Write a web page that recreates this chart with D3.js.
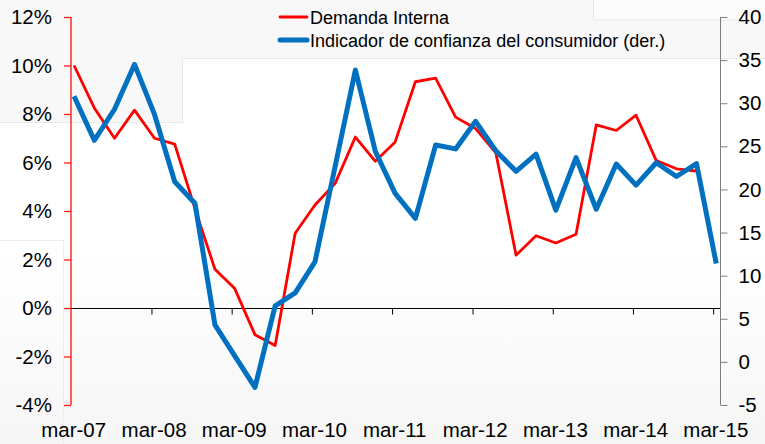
<!DOCTYPE html>
<html>
<head>
<meta charset="utf-8">
<script src="https://cdn.jsdelivr.net/npm/d3@7"></script>
<style>
  html, body { margin: 0; padding: 0; background: #ffffff; }
  svg { display: block; font-family: "Liberation Sans", Arial, sans-serif; }
</style>
</head>
<body>
<svg id="chart" width="765" height="444"></svg>
<script>
// ---- data ----
const quarters = [
  "2007-03","2007-06","2007-09","2007-12",
  "2008-03","2008-06","2008-09","2008-12",
  "2009-03","2009-06","2009-09","2009-12",
  "2010-03","2010-06","2010-09","2010-12",
  "2011-03","2011-06","2011-09","2011-12",
  "2012-03","2012-06","2012-09","2012-12",
  "2013-03","2013-06","2013-09","2013-12",
  "2014-03","2014-06","2014-09","2014-12",
  "2015-03"
];
const demandaInterna = [
  10.0, 8.25, 7.0, 8.16,
  7.0, 6.76, 4.1, 1.6,
  0.8, -1.1, -1.55, 3.08,
  4.25, 5.14, 7.05, 6.05,
  6.85, 9.33, 9.48, 7.87,
  7.4, 6.4, 2.18, 2.98,
  2.68, 3.04, 7.55, 7.32,
  7.95, 6.08, 5.74, 5.65,
  null
];
const confianza = [
  30.8, 25.7, 29.3, 34.5,
  28.7, 20.9, 18.4, 4.3,
  0.7, -2.95, 6.5, 8.0,
  11.6, 22.7, 33.85, 24.4,
  19.55, 16.65, 25.15, 24.7,
  27.9, 24.5, 22.1, 24.1,
  17.6, 23.7, 17.7, 22.95,
  20.5, 23.1, 21.5, 23.0,
  11.4
];
const xTickLabels = ["mar-07","mar-08","mar-09","mar-10","mar-11","mar-12","mar-13","mar-14","mar-15"];
const leftTicks = [-4, -2, 0, 2, 4, 6, 8, 10, 12];
const rightTicks = [-5, 0, 5, 10, 15, 20, 25, 30, 35, 40];
const seriesNames = ["Demanda Interna", "Indicador de confianza del consumidor (der.)"];

// ---- layout ----
const svg = d3.select("#chart");
const pLeft = 71, pRight = 720, pTop = 17, pBottom = 405;

// faint background panels (slide artefacts)
const bg = svg.append("g");
bg.append("rect").attr("x", 0).attr("y", 0).attr("width", 765).attr("height", 444).attr("fill", "#ffffff");
const grad = svg.append("defs").append("linearGradient").attr("id", "bgGrad")
  .attr("x1", 0).attr("y1", 0).attr("x2", 0).attr("y2", 1);
grad.append("stop").attr("offset", "0%").attr("stop-color", "#ffffff");
grad.append("stop").attr("offset", "100%").attr("stop-color", "#f6f6f6");
bg.append("rect").attr("x", 0).attr("y", 250).attr("width", 765).attr("height", 194).attr("fill", "url(#bgGrad)");
bg.append("rect").attr("x", 0).attr("y", 0).attr("width", 765).attr("height", 58).attr("fill", "#f8f8f8");
bg.append("rect").attr("x", 0).attr("y", 58).attr("width", 182).attr("height", 65).attr("fill", "#f8f8f8");
bg.append("path").attr("d", "M0,122.5H182.5V58.5H765").attr("fill", "none").attr("stroke", "#e8e8e8");
bg.append("rect").attr("x", 593.5).attr("y", -1).attr("width", 175).attr("height", 21).attr("fill", "#fcfcfc").attr("stroke", "#e8e8e8");
bg.append("path").attr("d", "M0,240.5H63.5V444").attr("fill", "none").attr("stroke", "#ededed");

// ---- scales ----
const parseQ = d3.timeParse("%Y-%m");
const qDates = quarters.map(q => d3.timeDay.offset(parseQ(q), 14));
const x = d3.scaleTime()
  .domain([new Date(2007, 2, 1), new Date(2015, 3, 1)])
  .range([pLeft, pRight]);
const yL = d3.scaleLinear().domain([-4, 12]).range([pBottom, pTop]);
const yR = d3.scaleLinear().domain([-5, 40]).range([pBottom, pTop]);
const tickDates = xTickLabels.map((_, i) => new Date(2007 + i, 2, 1));

// ---- axes ----
const fontSize = "20.5px";
const axisRed = "#ff1a1a";

// left axis (red)
const gL = svg.append("g").attr("transform", `translate(${pLeft},0)`)
  .call(d3.axisLeft(yL).tickValues(leftTicks).tickSize(7).tickPadding(12)
    .tickFormat(d => d + "%"));
gL.select(".domain").remove();
gL.selectAll(".tick line").attr("stroke", axisRed).style("stroke", axisRed).attr("stroke-width", 1.3);
gL.selectAll(".tick text").style("fill", "#000").style("font-size", fontSize);
gL.append("line").attr("x1", 0).attr("x2", 0).attr("y1", pTop).attr("y2", pBottom)
  .attr("stroke", axisRed).style("stroke", axisRed).attr("stroke-width", 1.4);

// right axis (gray)
const gR = svg.append("g").attr("transform", `translate(${pRight + 0.5},0)`)
  .call(d3.axisRight(yR).tickValues(rightTicks).tickSize(7).tickPadding(11)
    .tickFormat(d => String(d)));
gR.select(".domain").attr("d", `M0,${pTop}V${pBottom}`).style("stroke", "#7f7f7f");
gR.selectAll(".tick line").style("stroke", "#7f7f7f");
gR.selectAll(".tick text").style("fill", "#000").style("font-size", fontSize);

// x axis at 0%
const y0 = Math.round(yL(0)) + 0.5;
const gX = svg.append("g").attr("transform", `translate(0,${y0})`)
  .call(d3.axisBottom(x).tickValues(tickDates.slice(1)).tickSize(6).tickFormat(""));
gX.select(".domain").attr("d", `M${pLeft},0H${pRight}`).style("stroke", "#000");
gX.selectAll(".tick line").style("stroke", "#000");

// x labels (at bottom)
svg.append("g").selectAll("text").data(xTickLabels).join("text")
  .attr("x", (d, i) => x(d3.timeDay.offset(tickDates[i], 12)))
  .attr("y", 437)
  .attr("text-anchor", "middle")
  .style("font-size", fontSize)
  .attr("fill", "#000")
  .text(d => d);

// ---- lines ----
const redData = qDates.map((d, i) => ({ d, v: demandaInterna[i] }));
const blueData = qDates.map((d, i) => ({ d, v: confianza[i] }));

svg.append("path")
  .datum(redData)
  .attr("fill", "none")
  .attr("stroke", "#ff0000")
  .attr("stroke-width", 2.8)
  .attr("stroke-linejoin", "round")
  .attr("d", d3.line().defined(p => p.v !== null).x(p => x(p.d)).y(p => yL(p.v)));

svg.append("path")
  .datum(blueData)
  .attr("fill", "none")
  .attr("stroke", "#0070c0")
  .attr("stroke-width", 5)
  .attr("stroke-linejoin", "round")
  .attr("d", d3.line().defined(p => p.v !== null).x(p => x(p.d)).y(p => yR(p.v)));

// ---- legend ----
const legend = svg.append("g");
const legColors = ["#ff0000", "#0070c0"];
const legWidths = [2.8, 5];
seriesNames.forEach((name, i) => {
  const ly = 17 + i * 23;
  legend.append("line")
    .attr("x1", 280).attr("x2", 307).attr("y1", ly).attr("y2", ly)
    .attr("stroke", legColors[i]).attr("stroke-width", legWidths[i])
    .attr("stroke-linecap", "round");
  legend.append("text")
    .attr("x", 310).attr("y", ly + 6.5)
    .style("font-size", "18px")
    .attr("fill", "#000")
    .text(name);
});
</script>
</body>
</html>
